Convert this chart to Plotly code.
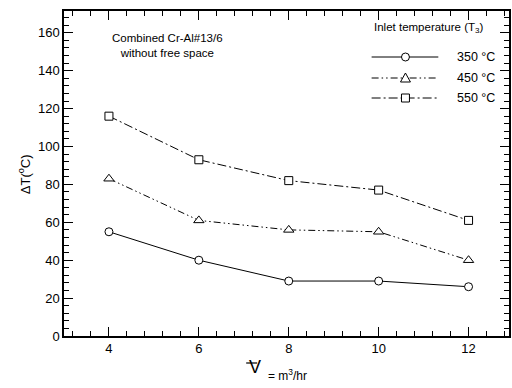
import plotly.graph_objects as go

# Flow rate (m^3/hr) and temperature rise for each inlet temperature
flow_rate = [4, 6, 8, 10, 12]
dT_350 = [55, 40, 29, 29, 26]
dT_450 = [83, 61, 56, 55, 40]
dT_550 = [116, 93, 82, 77, 61]

series_names = ["350 °C", "450 °C", "550 °C"]
series_values = [dT_350, dT_450, dT_550]
symbols = ["circle", "triangle-up", "square"]
dashes = ["solid", "7px,3px,1.5px,3px,1.5px,3px", "9px,3px,2px,3px"]
marker_sizes = [8, 9, 8]

FONT = "Liberation Sans, Arial, sans-serif"

fig = go.Figure()
for name, vals, sym, dash, ms in zip(series_names, series_values, symbols, dashes, marker_sizes):
    fig.add_trace(go.Scatter(
        x=flow_rate, y=vals, name=name, mode="lines+markers",
        line=dict(color="black", width=1, dash=dash),
        marker=dict(symbol=sym, size=ms, color="white",
                    line=dict(color="black", width=1)),
        showlegend=False,
    ))

axis_common = dict(
    showline=True, linecolor="black", linewidth=1.5, mirror="allticks",
    ticks="inside", ticklen=9, tickwidth=1, tickcolor="black",
    showgrid=False, zeroline=False,
    tickfont=dict(family=FONT, size=13, color="black"),
)
fig.update_xaxes(range=[3, 12.9], tick0=0, dtick=2,
                 minor=dict(dtick=0.4, tick0=0, ticks="inside", ticklen=5,
                            tickcolor="black", tickwidth=1),
                 **axis_common)
fig.update_yaxes(range=[0, 171.5], tick0=0, dtick=20,
                 minor=dict(dtick=4, tick0=0, ticks="inside", ticklen=5,
                            tickcolor="black", tickwidth=1),
                 **axis_common)

W, H = 512, 388
ML, MR, MT, MB = 64, 1, 11, 52
PW, PH = W - ML - MR, H - MT - MB


# pixel position on the page -> paper coordinates (paper spans the plot area)
def px(x):
    return (x - ML) / PW


def py(y):
    return (H - MB - y) / PH


annotations = [
    dict(text="ΔT(<sup>o</sup>C)", x=px(24), y=py(174), textangle=-90,
         font=dict(family=FONT, size=13)),
    dict(text="Combined Cr-Al#13/6<br>without free space", x=px(168), y=py(45),
         font=dict(family=FONT, size=11.5)),
    dict(text="Inlet temperature (T<sub>3</sub>)", x=px(373), y=py(28), xanchor="left",
         font=dict(family=FONT, size=11.5)),
    dict(text="V", x=px(256), y=py(367), font=dict(family=FONT, size=18)),
    dict(text="= m<sup>3</sup>/hr", x=px(267), y=py(375), xanchor="left",
         font=dict(family=FONT, size=12)),
]
for a in annotations:
    a.setdefault("xanchor", "center")
    a.update(xref="paper", yref="paper", yanchor="middle", showarrow=False)

shapes = [
    dict(type="line", x0=px(247), x1=px(258), y0=py(363), y1=py(363),
         line=dict(color="black", width=1.2)),
]

# Legend key: line sample, centred marker, label
row_y = [57, 78, 98]
for name, dash, sym, yy in zip(series_names, dashes, symbols, row_y):
    shapes.append(dict(type="line", x0=px(373), x1=px(440), y0=py(yy), y1=py(yy),
                       line=dict(color="black", width=1, dash=dash)))
    annotations.append(dict(text=name, x=px(457), y=py(yy), xanchor="left", yanchor="middle",
                            xref="paper", yref="paper", showarrow=False,
                            font=dict(family=FONT, size=12.5)))
    cx, cy, r = 407, yy, 4
    if sym == "circle":
        shapes.append(dict(type="circle", x0=px(cx - r), x1=px(cx + r), y0=py(cy - r), y1=py(cy + r),
                           fillcolor="white", line=dict(color="black", width=1)))
    elif sym == "square":
        shapes.append(dict(type="rect", x0=px(cx - r), x1=px(cx + r), y0=py(cy - r), y1=py(cy + r),
                           fillcolor="white", line=dict(color="black", width=1)))
    else:
        path = "M {} {} L {} {} L {} {} Z".format(px(cx - 5), py(cy + 4), px(cx + 5), py(cy + 4),
                                                  px(cx), py(cy - 5))
        shapes.append(dict(type="path", path=path, fillcolor="white",
                           line=dict(color="black", width=1)))

for s in shapes:
    s.update(xref="paper", yref="paper")

fig.update_layout(
    width=W, height=H,
    margin=dict(l=ML, r=MR, t=MT, b=MB),
    paper_bgcolor="white", plot_bgcolor="white",
    font=dict(family=FONT, color="black"),
    annotations=annotations, shapes=shapes,
    showlegend=False,
)

fig.write_html("out.html")
